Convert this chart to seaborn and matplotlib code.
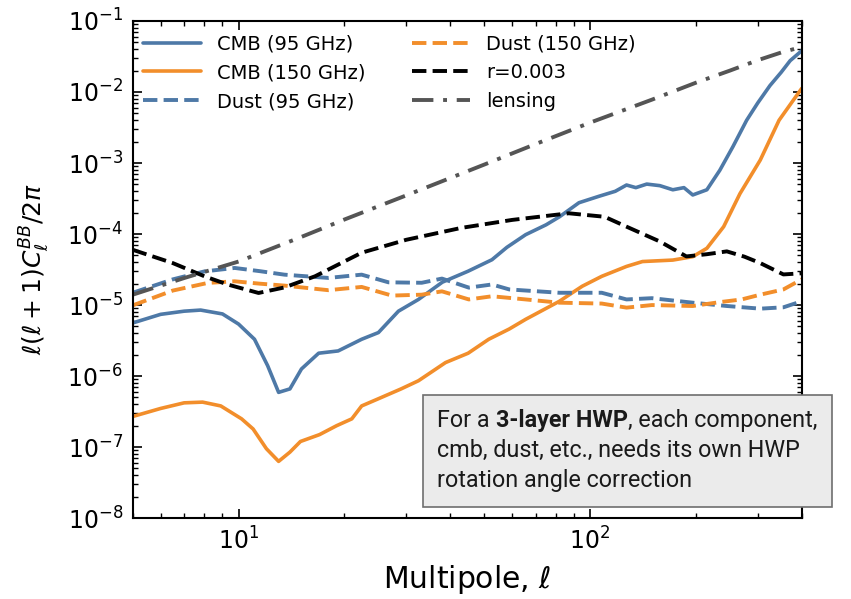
import matplotlib
matplotlib.use("Agg")
import matplotlib.pyplot as plt
import seaborn as sns
from matplotlib.offsetbox import TextArea, HPacker, VPacker, AnchoredOffsetbox

# values (ell, D_ell^BB)
ell_cmb95 = [5, 6, 7, 7.8, 9, 10, 11.1, 12.1, 13, 14, 15.1, 16.9, 19.2, 22.4, 25, 28.5,
             32.5, 38, 45, 52.6, 58, 65.6, 75, 82, 93, 106, 118, 127, 135, 145, 158,
             172, 185, 196, 215, 234, 255, 279, 300, 325, 350, 371, 400]
cmb95 = [5.6e-6, 7.4e-6, 8.2e-6, 8.5e-6, 7.5e-6, 5.4e-6, 3.3e-6, 1.4e-6, 5.9e-7, 6.6e-7,
         1.26e-6, 2.1e-6, 2.26e-6, 3.3e-6, 4.1e-6, 8.2e-6, 1.2e-5, 2.1e-5, 3.0e-5, 4.35e-5,
         6.5e-5, 9.8e-5, 1.35e-4, 1.76e-4, 2.76e-4, 3.4e-4, 4.0e-4, 4.9e-4, 4.5e-4, 5.05e-4,
         4.8e-4, 4.2e-4, 4.5e-4, 3.55e-4, 4.2e-4, 7.9e-4, 1.7e-3, 4.0e-3, 7.0e-3, 1.23e-2,
         1.9e-2, 2.76e-2, 3.8e-2]

ell_cmb150 = [5, 6, 7, 7.9, 8.9, 10.2, 11, 12, 13, 14, 15, 17, 19, 21, 22.4, 25, 29, 32.5,
              38.8, 45, 51.5, 58.9, 65.6, 81.8, 95, 108, 127, 141, 172, 196, 215, 240,
              267, 305, 345, 400]
cmb150 = [2.7e-7, 3.5e-7, 4.2e-7, 4.3e-7, 3.8e-7, 2.5e-7, 1.8e-7, 9.5e-8, 6.3e-8, 8.5e-8,
          1.2e-7, 1.5e-7, 2.0e-7, 2.5e-7, 3.8e-7, 4.8e-7, 6.6e-7, 8.6e-7, 1.55e-6, 2.1e-6,
          3.3e-6, 4.6e-6, 6.3e-6, 1.13e-5, 1.84e-5, 2.54e-5, 3.5e-5, 4.1e-5, 4.3e-5, 4.8e-5,
          6.3e-5, 1.27e-4, 3.7e-4, 1.1e-3, 4.0e-3, 1.12e-2]

ell_dust95 = [5, 6.5, 8, 9.75, 11.5, 13.5, 18, 22.4, 26.7, 33.2, 37.9, 45.2, 52.6, 58.9,
              81.8, 108, 127, 150, 196, 245, 305, 355, 400]
dust95 = [1.49e-5, 2.3e-5, 2.98e-5, 3.33e-5, 3.0e-5, 2.68e-5, 2.41e-5, 2.68e-5, 2.09e-5,
          2.06e-5, 2.36e-5, 1.76e-5, 1.95e-5, 1.66e-5, 1.49e-5, 1.49e-5, 1.2e-5, 1.25e-5,
          1.08e-5, 9.7e-6, 8.9e-6, 9.3e-6, 1.13e-5]

ell_dust150 = [5, 6.5, 8.17, 9.75, 11.5, 13.5, 18, 22.4, 27.3, 33.2, 37.9, 45.2, 52.6, 65.6,
               81.8, 108, 127, 150, 196, 234, 270, 305, 355, 400]
dust150 = [9.9e-6, 1.6e-5, 2.05e-5, 2.16e-5, 2.0e-5, 1.88e-5, 1.62e-5, 1.8e-5, 1.36e-5,
           1.4e-5, 1.56e-5, 1.2e-5, 1.33e-5, 1.2e-5, 1.08e-5, 1.05e-5, 9.2e-6, 1.0e-5,
           9.7e-6, 1.1e-5, 1.2e-5, 1.4e-5, 1.66e-5, 2.3e-5]

ell_r = [5, 6.5, 8, 9.3, 11.4, 13.5, 16.5, 22.4, 30, 43, 60, 87, 110, 127, 158, 188, 215,
         245, 275, 305, 355, 400]
r003 = [6.0e-5, 3.9e-5, 2.54e-5, 1.95e-5, 1.48e-5, 1.77e-5, 2.54e-5, 5.46e-5, 8.3e-5,
        1.22e-4, 1.58e-4, 1.96e-4, 1.75e-4, 1.27e-4, 7.85e-5, 4.84e-5, 5.2e-5, 5.7e-5,
        4.8e-5, 3.9e-5, 2.7e-5, 2.8e-5]

ell_lens = [5, 7, 10, 15, 20, 30, 50, 70, 100, 150, 200, 250, 300, 350, 400]
lensing = [1.4e-5, 2.4e-5, 4.1e-5, 9.0e-5, 1.6e-4, 3.5e-4, 9.5e-4, 1.85e-3, 3.7e-3,
           7.8e-3, 1.35e-2, 2.0e-2, 2.8e-2, 3.6e-2, 4.3e-2]

blue = "#4e79a7"
orange = "#f28e2b"

sns.set_style("ticks", {"axes.edgecolor": "black", "text.color": "black",
                        "axes.labelcolor": "black", "xtick.color": "black",
                        "ytick.color": "black"})
plt.rcParams["font.family"] = ["DejaVu Sans"]
plt.rcParams["mathtext.fontset"] = "dejavusans"

fig = plt.figure(figsize=(8.51, 5.99), dpi=100)
ax = fig.add_axes([0.156, 0.135, 0.786, 0.83])

sns.lineplot(x=ell_cmb95, y=cmb95, ax=ax, color=blue, lw=2.6, label="CMB (95 GHz)")
sns.lineplot(x=ell_cmb150, y=cmb150, ax=ax, color=orange, lw=2.6, label="CMB (150 GHz)")
sns.lineplot(x=ell_dust95, y=dust95, ax=ax, color=blue, lw=2.8, linestyle="--", label="Dust (95 GHz)")
sns.lineplot(x=ell_dust150, y=dust150, ax=ax, color=orange, lw=2.8, linestyle="--", label="Dust (150 GHz)")
sns.lineplot(x=ell_r, y=r003, ax=ax, color="black", lw=2.8, linestyle="--", label="r=0.003")
sns.lineplot(x=ell_lens, y=lensing, ax=ax, color="#555555", lw=2.8,
             linestyle=(0, (5.5, 2.5, 1, 2.5)), label="lensing")

ax.set_xscale("log")
ax.set_yscale("log")
ax.set_xlim(5, 400)
ax.set_ylim(1e-8, 1e-1)

ax.set_xlabel(r"Multipole, $\ell$", fontsize=21.5, labelpad=6)
ax.set_ylabel(r"$\ell(\ell+1)C_\ell^{BB}/2\pi$", fontsize=18, labelpad=12)

ax.tick_params(which="both", direction="in", top=True, right=True, labelsize=17, pad=7)
ax.tick_params(which="major", length=6.5, width=1.2)
ax.tick_params(which="minor", length=3.6, width=1.0)
for s in ax.spines.values():
    s.set_linewidth(1.5)

ax.legend(loc="upper left", ncol=2, frameon=False, fontsize=14, handlelength=3,
          handletextpad=0.8, columnspacing=2.4, labelspacing=0.5,
          bbox_to_anchor=(-0.005, 1.0), borderaxespad=0.3)

# annotation box with bold part
fs = 16.8
norm = dict(fontsize=fs, family="Roboto", color="#1a1a1a")
bold = dict(fontsize=fs, family="Roboto", weight="bold", color="#1a1a1a")
line1 = HPacker(children=[TextArea("For a ", textprops=norm),
                          TextArea("3-layer HWP", textprops=bold),
                          TextArea(", each component,", textprops=norm)],
                sep=0, pad=0, align="baseline")
line2 = TextArea("cmb, dust, etc., needs its own HWP", textprops=norm)
line3 = TextArea("rotation angle correction", textprops=norm)
box = VPacker(children=[line1, line2, line3], sep=5, pad=0, align="left")
anchored = AnchoredOffsetbox(loc="upper left", child=box, pad=0.62, borderpad=0,
                             frameon=True, bbox_to_anchor=(423 / 851, 1 - 395 / 599),
                             bbox_transform=fig.transFigure, prop=dict(size=fs))
anchored.patch.set_facecolor("#ebebeb")
anchored.patch.set_edgecolor("#6e6e6e")
anchored.patch.set_linewidth(1.2)
anchored.patch.set_boxstyle("square", pad=0)
fig.add_artist(anchored)

fig.savefig("out.png", dpi=100)
